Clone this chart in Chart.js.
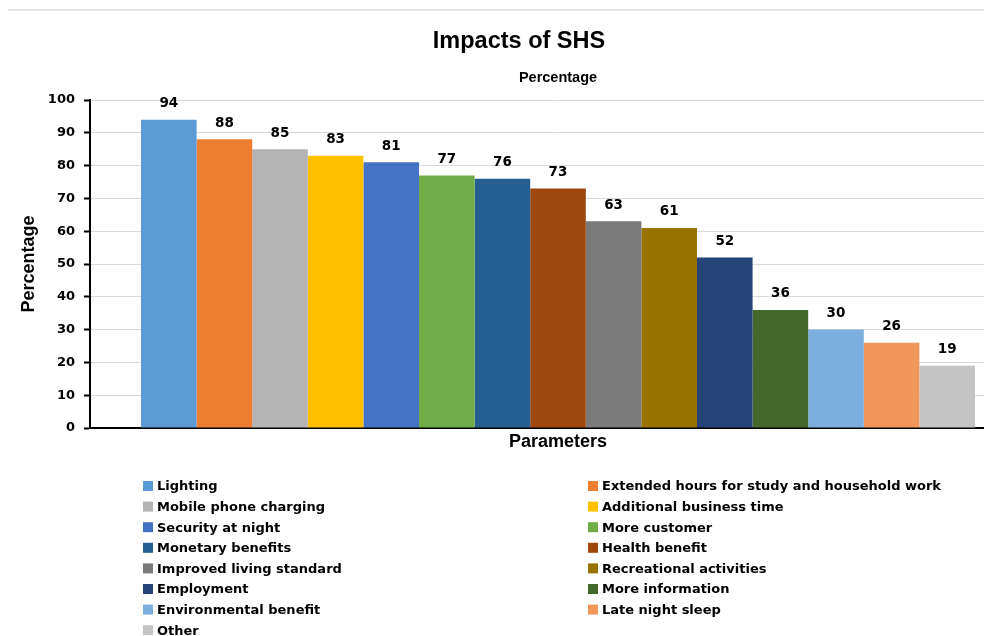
<!DOCTYPE html>
<html>
<head>
<meta charset="utf-8">
<script src="https://cdn.jsdelivr.net/npm/chart.js@4/dist/chart.umd.min.js"></script>
<style>
  html, body { margin: 0; padding: 0; background: #fff; }
  #wrap { position: relative; width: 984px; height: 636px; overflow: hidden; }
  #topline { position: absolute; left: 8px; top: 9px; width: 976px; height: 2px; background: #e3e3e3; }
  canvas { position: absolute; left: 0; top: 0; }
</style>
</head>
<body>
<div id="wrap">
  <canvas id="c" width="1040" height="636"></canvas>
  <div id="topline"></div>
</div>
<script>
const categories = ["Parameters"];
const seriesNames = [
  "Lighting",
  "Extended hours for study and household work",
  "Mobile phone charging",
  "Additional business time",
  "Security at night",
  "More customer",
  "Monetary benefits",
  "Health benefit",
  "Improved living standard",
  "Recreational activities",
  "Employment",
  "More information",
  "Environmental benefit",
  "Late night sleep",
  "Other"
];
const seriesValues = [94, 88, 85, 83, 81, 77, 76, 73, 63, 61, 52, 36, 30, 26, 19];
const seriesColors = [
  "#5B9BD5", "#ED7D31", "#B4B4B4", "#FFC000", "#4472C4",
  "#70AD47", "#255E91", "#9E480E", "#7A7A7A", "#997300",
  "#264478", "#43682B", "#7CAFDD", "#F1975A", "#C4C4C4"
];
const yTicks = [0, 10, 20, 30, 40, 50, 60, 70, 80, 90, 100];
const chartTitle = "Impacts of SHS";
const chartSubtitle = "Percentage";

const legendFont = "bold 13px 'DejaVu Sans'";
const valueFont = "bold 13.5px 'DejaVu Sans'";

const valueLabels = {
  id: "valueLabels",
  afterDatasetsDraw(chart) {
    const ctx = chart.ctx;
    ctx.save();
    ctx.font = valueFont;
    ctx.fillStyle = "#000";
    ctx.textAlign = "center";
    ctx.textBaseline = "middle";
    chart.data.datasets.forEach((ds, i) => {
      const el = chart.getDatasetMeta(i).data[0];
      ctx.fillText(String(ds.data[0]), el.x, el.y - 16);
    });
    ctx.restore();
  }
};

const titles = {
  id: "titles",
  afterDraw(chart) {
    const ctx = chart.ctx;
    const ca = chart.chartArea;
    ctx.save();
    ctx.fillStyle = "#000";
    ctx.textAlign = "center";
    ctx.textBaseline = "middle";
    ctx.font = "bold 23.5px 'Liberation Sans'";
    ctx.fillText(chartTitle, 519, 42);
    ctx.font = "bold 14.5px 'Liberation Sans'";
    ctx.fillText(chartSubtitle, (ca.left + ca.right) / 2, 78);
    ctx.restore();
  }
};

const twoColLegend = {
  id: "twoColLegend",
  afterDraw(chart) {
    const ctx = chart.ctx;
    ctx.save();
    ctx.font = legendFont;
    ctx.textBaseline = "middle";
    ctx.textAlign = "left";
    chart.data.datasets.forEach((ds, i) => {
      const col = i % 2, row = Math.floor(i / 2);
      const sx = col === 0 ? 143 : 588;
      const y = 486 + row * 20.6;
      ctx.fillStyle = ds.backgroundColor;
      ctx.fillRect(sx, y - 5, 10, 10);
      ctx.fillStyle = "#000";
      ctx.fillText(ds.label, sx + 14, y + 1);
    });
    ctx.restore();
  }
};

new Chart(document.getElementById("c"), {
  type: "bar",
  data: {
    labels: categories,
    datasets: seriesNames.map((name, i) => ({
      label: name,
      data: [seriesValues[i]],
      backgroundColor: seriesColors[i],
      borderWidth: 0,
      barPercentage: 1.0,
      categoryPercentage: 0.891
    }))
  },
  options: {
    responsive: false,
    devicePixelRatio: 1,
    animation: false,
    layout: { padding: { left: 0, right: 14, top: 100, bottom: 178 } },
    plugins: {
      legend: { display: false },
      tooltip: { enabled: false },
      title: { display: false },
      subtitle: { display: false }
    },
    scales: {
      x: {
        ticks: { display: false },
        grid: { display: false, drawTicks: false },
        border: { display: true, color: "#000", width: 2 },
        title: {
          display: true,
          text: "Parameters",
          color: "#000",
          font: { family: "'Liberation Sans'", size: 18, weight: "bold" },
          padding: { top: 0, bottom: 5 }
        },
        afterFit(scale) { scale.height = 30; }
      },
      y: {
        min: 0,
        max: 100,
        afterBuildTicks(scale) { scale.ticks = yTicks.map(v => ({ value: v })); },
        ticks: {
          color: "#000",
          font: { family: "'DejaVu Sans'", size: 13, weight: "bold" },
          padding: 9
        },
        grid: { color: "#D9D9D9", lineWidth: 1, tickColor: "#000", tickLength: 6, tickWidth: 2 },
        border: { display: true, color: "#000", width: 2 },
        title: {
          display: true,
          text: "Percentage",
          color: "#000",
          font: { family: "'Liberation Sans'", size: 18, weight: "bold" },
          padding: { top: 18, bottom: 0 }
        },
        afterFit(scale) { scale.width = 90; }
      }
    }
  },
  plugins: [valueLabels, titles, twoColLegend]
});
</script>
</body>
</html>
